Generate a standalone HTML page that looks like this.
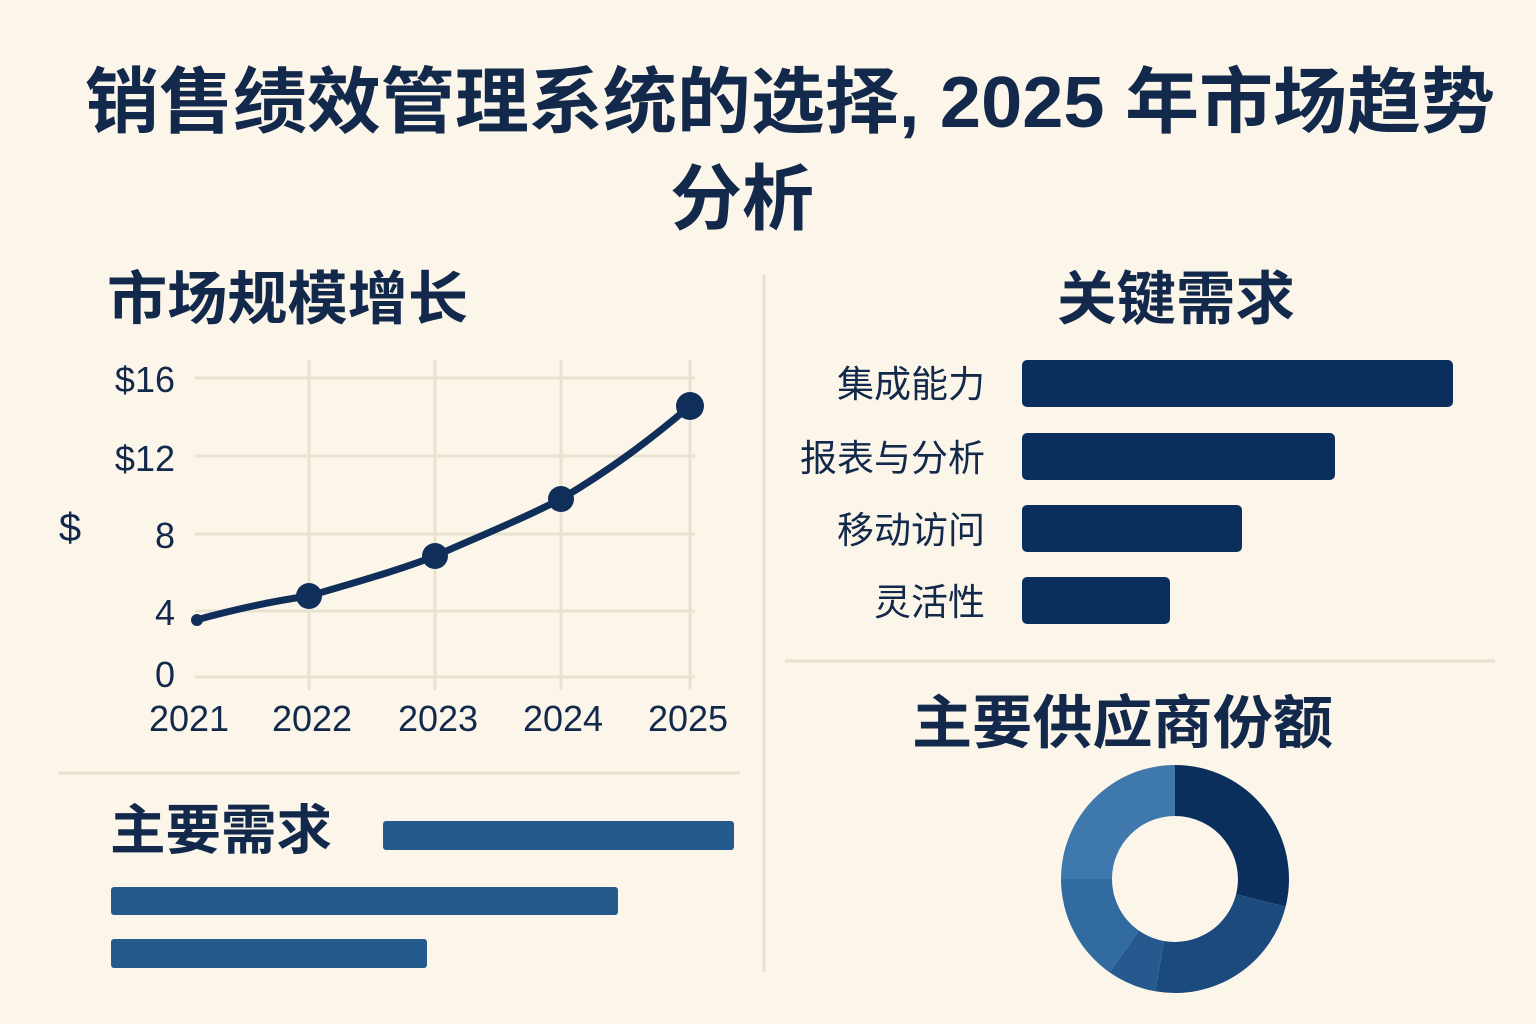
<!DOCTYPE html>
<html><head><meta charset="utf-8"><style>
html,body{margin:0;padding:0;background:#fbf6e9;}
svg{display:block;}
text{font-family:"Liberation Sans","Noto Sans CJK SC",sans-serif;fill:#13294b;}
</style></head><body>
<svg width="1536" height="1024" viewBox="0 0 1536 1024" xmlns="http://www.w3.org/2000/svg">
<rect width="1536" height="1024" fill="#fbf6e9"/>
<text x="790" y="127" font-size="72" font-weight="bold" text-anchor="middle" textLength="1410" lengthAdjust="spacingAndGlyphs">销售绩效管理系统的选择, 2025 年市场趋势</text>
<text x="742" y="224" font-size="72" font-weight="bold" text-anchor="middle">分析</text>

<g stroke="#e6e0cf" stroke-width="3">
<line x1="764" y1="275" x2="764" y2="972"/>
<line x1="58" y1="773" x2="740" y2="773"/>
<line x1="785" y1="661" x2="1495" y2="661"/>
</g>

<text x="107" y="319" font-size="58" font-weight="bold" textLength="361" lengthAdjust="spacingAndGlyphs">市场规模增长</text>
<text x="1057" y="319" font-size="58" font-weight="bold" textLength="238" lengthAdjust="spacingAndGlyphs">关键需求</text>
<text x="912" y="743" font-size="58" font-weight="bold" textLength="421" lengthAdjust="spacingAndGlyphs">主要供应商份额</text>
<text x="110" y="849" font-size="54" font-weight="bold" textLength="222" lengthAdjust="spacingAndGlyphs">主要需求</text>

<g stroke="#e8e2d0" stroke-width="3">
<line x1="195" y1="378" x2="695" y2="378"/>
<line x1="195" y1="456" x2="695" y2="456"/>
<line x1="195" y1="534" x2="695" y2="534"/>
<line x1="195" y1="611" x2="695" y2="611"/>
<line x1="195" y1="677" x2="695" y2="677"/>
<line x1="309" y1="360" x2="309" y2="690"/>
<line x1="435" y1="360" x2="435" y2="690"/>
<line x1="561" y1="360" x2="561" y2="690"/>
<line x1="690" y1="360" x2="690" y2="690"/>
</g>
<g font-size="36" text-anchor="end">
<text x="175" y="392">$16</text>
<text x="175" y="471">$12</text>
<text x="175" y="548">8</text>
<text x="175" y="625">4</text>
<text x="175" y="687">0</text>
</g>
<text x="70" y="541" font-size="40" text-anchor="middle">$</text>
<g font-size="36" text-anchor="middle">
<text x="189" y="731">2021</text>
<text x="312" y="731">2022</text>
<text x="438" y="731">2023</text>
<text x="563" y="731">2024</text>
<text x="688" y="731">2025</text>
</g>
<path d="M196,620 C240,608 280,600 309,596 C350,584 400,570 435,556 C480,536 520,520 561,499 C610,470 650,440 690,406" fill="none" stroke="#0f2f5a" stroke-width="7" stroke-linecap="round"/>
<g fill="#0f2f5a">
<circle cx="197" cy="620" r="6"/>
<circle cx="309" cy="596" r="13"/>
<circle cx="435" cy="556" r="13"/>
<circle cx="561" cy="499" r="13"/>
<circle cx="690" cy="406" r="14"/>
</g>

<g font-size="37" text-anchor="end">
<text x="985" y="397">集成能力</text>
<text x="985" y="471">报表与分析</text>
<text x="985" y="543">移动访问</text>
<text x="985" y="615">灵活性</text>
</g>
<g fill="#0b2f5c">
<rect x="1022" y="360" width="431" height="47" rx="5"/>
<rect x="1022" y="433" width="313" height="47" rx="5"/>
<rect x="1022" y="505" width="220" height="47" rx="5"/>
<rect x="1022" y="577" width="148" height="47" rx="5"/>
</g>

<g fill="#245a8c">
<rect x="383" y="821" width="351" height="29" rx="3"/>
<rect x="111" y="887" width="507" height="28" rx="3"/>
<rect x="111" y="939" width="316" height="29" rx="3"/>
</g>

<path d="M1175,765 A114,114 0 0 1 1285.6,906.6 L1236.1,894.2 A63,63 0 0 0 1175,816 Z" fill="#0b2f5c"/>
<path d="M1285.6,906.6 A114,114 0 0 1 1155.2,991.3 L1164.1,941 A63,63 0 0 0 1236.1,894.2 Z" fill="#1b4a7c"/>
<path d="M1155.2,991.3 A114,114 0 0 1 1109.6,972.4 L1138.9,930.6 A63,63 0 0 0 1164.1,941 Z" fill="#265a8f"/>
<path d="M1109.6,972.4 A114,114 0 0 1 1061,879 L1112,879 A63,63 0 0 0 1138.9,930.6 Z" fill="#316b9f"/>
<path d="M1061,879 A114,114 0 0 1 1175,765 L1175,816 A63,63 0 0 0 1112,879 Z" fill="#3f78ad"/>
</svg>
</body></html>
